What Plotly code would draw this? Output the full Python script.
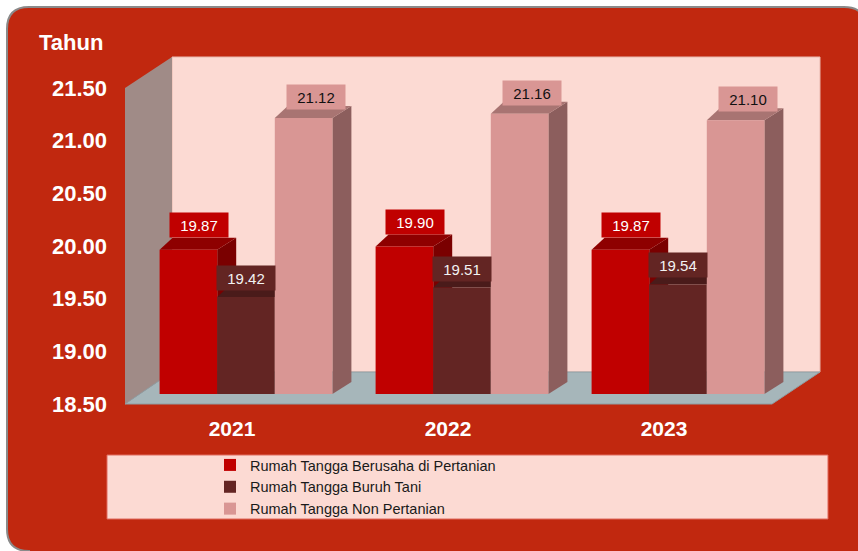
import plotly.graph_objects as go

# ---------------- data ----------------
years = ["2021", "2022", "2023"]
series_names = [
    "Rumah Tangga Berusaha di Pertanian",
    "Rumah Tangga Buruh Tani",
    "Rumah Tangga Non Pertanian",
]
berusaha = [19.87, 19.90, 19.87]
buruh = [19.42, 19.51, 19.54]
non_pertanian = [21.12, 21.16, 21.10]
y_ticks = [18.50, 19.00, 19.50, 20.00, 20.50, 21.00, 21.50]

# ---------------- styling ----------------
front_cols = ["#C00000", "#632523", "#D99694"]
top_cols = ["#8E0000", "#4A1B1A", "#A87472"]
side_cols = ["#7A0000", "#3E1514", "#8C5E5D"]
label_font_cols = ["#FFFFFF", "#F2F2F2", "#111111"]
label_shift = [(11, 12), (0, 6), (12, 8)]

W, H = 858, 551
ML, MR, MT, MB = 138, 72, 78, 157
PW, PH = W - ML - MR, H - MT - MB
YMIN, YMAX = 18.5, 21.5
XPU = PW / 3.0            # pixels per category unit
YPU = PH / (YMAX - YMIN)  # pixels per y unit


def px(x):
    return (x - ML) / PW


def py(y):
    return (H - MB - y) / PH


FONT = "Liberation Sans, Arial, sans-serif"

fig = go.Figure()
all_vals = [berusaha, buruh, non_pertanian]
for i, (name, vals) in enumerate(zip(series_names, all_vals)):
    fig.add_trace(go.Bar(
        x=[0, 1, 2], y=vals, name=name,
        marker=dict(color=front_cols[i], line=dict(width=0)),
        offsetgroup=str(i),
    ))

shapes = []


def poly(points, fill, line_col=None, lw=0):
    path = "M" + " L".join(f"{px(a):.5f},{py(b):.5f}" for a, b in points) + " Z"
    return dict(type="path", xref="paper", yref="paper", path=path,
                fillcolor=fill, line=dict(color=line_col or fill, width=lw),
                layer="below")


# outer rounded frame (bottom-right corner runs off the page)
x0, y0, x1, y1, R = 7, 7, 866, 551, 22
frame = (f"M{px(x0+R)},{py(y0)} L{px(x1-R)},{py(y0)} Q{px(x1)},{py(y0)} {px(x1)},{py(y0+R)} "
         f"L{px(x1)},{py(y1+10)} L{px(x0+R)},{py(y1+10)} L{px(x0+R)},{py(y1)} "
         f"Q{px(x0)},{py(y1)} {px(x0)},{py(y1-R)} "
         f"L{px(x0)},{py(y0+R)} Q{px(x0)},{py(y0)} {px(x0+R)},{py(y0)} Z")
shapes.append(dict(type="path", xref="paper", yref="paper", path=frame,
                   fillcolor="#C1280F", line=dict(color="#8A8A8A", width=2),
                   layer="below"))
# back wall
shapes.append(poly([(172, 57), (820, 57), (820, 372), (172, 372)], "#FCDAD3", "#E8B8AE", 1))
# side wall
shapes.append(poly([(125, 88), (172, 57), (172, 372), (125, 404)], "#A08B87"))
# floor
shapes.append(poly([(125, 404), (172, 372), (820, 372), (772, 404)], "#A6B6BA", "#8E9EA3", 1))
# legend box
shapes.append(poly([(107, 455), (828, 455), (828, 519), (107, 519)], "#FCDAD3", "#E06A5E", 1))

# 3D depth faces of bars (data coordinates)
bw = 0.8 / 3
DX, DXL, DY = 19 / XPU, 13 / XPU, 12 / YPU
annotations = []
for i, vals in enumerate(all_vals):
    for j, v in enumerate(vals):
        xc = j + (i - 1) * bw
        l, r = xc - bw / 2, xc + bw / 2
        shapes.append(dict(type="path", xref="x", yref="y", layer="below",
                           path=f"M{r},{v} L{r+DX},{v+DY} L{r+DX},{YMIN+DY} L{r},{YMIN} Z",
                           fillcolor=side_cols[i], line=dict(width=0)))
        shapes.append(dict(type="path", xref="x", yref="y", layer="below",
                           path=f"M{l},{v} L{l+DXL},{v+DY} L{r+DX},{v+DY} L{r},{v} Z",
                           fillcolor=top_cols[i], line=dict(width=0)))
        annotations.append(dict(
            x=xc, y=v, xref="x", yref="y", text=f"{v:.2f}", showarrow=False,
            xanchor="center", yanchor="bottom",
            xshift=label_shift[i][0], yshift=label_shift[i][1],
            width=56, height=22, bgcolor=front_cols[i],
            font=dict(family=FONT, size=15, color=label_font_cols[i]),
        ))

annotations.append(dict(
    x=px(37), y=py(42), xref="paper", yref="paper", text="Tahun",
    showarrow=False, xanchor="left", yanchor="middle",
    font=dict(family=FONT, size=22, color="white", weight="bold"),
))

fig.update_layout(
    width=W, height=H,
    margin=dict(l=ML, r=MR, t=MT, b=MB, pad=0),
    paper_bgcolor="white",
    plot_bgcolor="rgba(0,0,0,0)",
    barmode="group", bargap=0.2, bargroupgap=0,
    shapes=shapes, annotations=annotations,
    showlegend=True,
    legend=dict(
        x=px(210), y=py(449), xanchor="left", yanchor="top",
        bgcolor="rgba(0,0,0,0)", borderwidth=0,
        font=dict(family=FONT, size=14.5, color="#1A1A1A"),
        traceorder="normal",
    ),
    xaxis=dict(
        range=[-0.5, 2.5], tickmode="array", tickvals=[0, 1, 2], ticktext=years,
        showgrid=False, zeroline=False, showline=False, ticks="",
        tickfont=dict(family=FONT, size=21, color="white", weight="bold"),
        ticklabelshift=-14, ticklabelstandoff=20, fixedrange=True,
    ),
    yaxis=dict(
        range=[YMIN, YMAX], tickmode="array", tickvals=y_ticks,
        ticktext=[f"{t:.2f}" for t in y_ticks],
        showgrid=False, zeroline=False, showline=False, ticks="",
        tickfont=dict(family=FONT, size=22, color="white", weight="bold"),
        ticklabelshift=10, ticklabelstandoff=30, fixedrange=True,
    ),
)

fig.write_html("out.html", config={"displayModeBar": False},
               post_script="document.body.style.margin='0';")
